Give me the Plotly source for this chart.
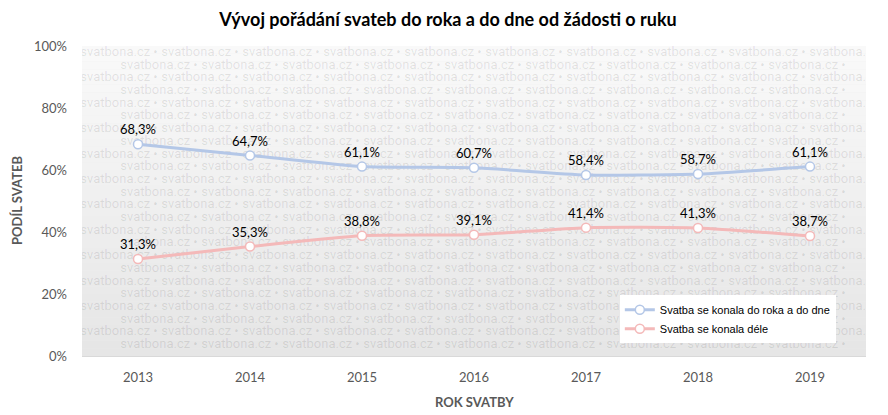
import plotly.graph_objects as go

# data
years = [2013, 2014, 2015, 2016, 2017, 2018, 2019]
do_roka = [68.3, 64.7, 61.1, 60.7, 58.4, 58.7, 61.1]
dele = [31.3, 35.3, 38.8, 39.1, 41.4, 41.3, 38.7]
y_ticks = [0, 20, 40, 60, 80, 100]

FONT = "Lato"
fig = go.Figure()

# --- background gradient (light top -> darker bottom)
n_bands = 40
for i in range(n_bands):
    t = i / (n_bands - 1)
    c = int(round(0xf9 - (0xf9 - 0xe6) * t))
    fig.add_shape(type="rect", xref="paper", yref="paper",
                  x0=0, x1=1, y0=1 - (i + 1) / n_bands, y1=1 - i / n_bands,
                  fillcolor=f"rgb({c},{c},{c})", line=dict(width=0), layer="below")

# --- watermark "svatbona.cz •" tiles, clipped to the plot area
px_x = 784 / 7   # pixels per year
px_y = 310 / 100  # pixels per percent
period = 81 / px_x
row_gap = 12.7 / px_y
wm_x, wm_y = [], []
for k in range(26):
    x0 = 2012.5 + 37 / px_x - (0 if k % 2 == 0 else 41 / px_x)
    for j in range(12):
        wm_x.append(x0 + j * period)
        wm_y.append(100 - 6.7 / px_y - row_gap * k)
fig.add_trace(go.Scatter(x=wm_x, y=wm_y, text=["svatbona.cz \u2022"] * len(wm_x), mode="text",
                         textposition="middle center", cliponaxis=True,
                         textfont=dict(family="Roboto", size=13, color="rgba(0,0,0,0.1)"),
                         hoverinfo="skip", showlegend=False))

series = [
    ("Svatba se konala do roka a do dne", do_roka, "#b4c7e7"),
    ("Svatba se konala déle", dele, "#f4b9b9"),
]
for name, vals, col in series:
    fig.add_trace(go.Scatter(
        x=years, y=vals, name=name, mode="lines+markers+text",
        line=dict(color=col, width=3, shape="spline", smoothing=0.6),
        marker=dict(size=9, color="white", line=dict(color=col, width=1.5)),
        texttemplate="%{y:.1f}%", textposition="top center",
        textfont=dict(family=FONT, size=13, color="#000000"),
        cliponaxis=False,
    ))

# axis titles as annotations so the plot area stays fixed
fig.add_annotation(text="<b>ROK SVATBY</b>", xref="paper", yref="paper", x=0.5, y=0,
                   yanchor="middle", yshift=-46, showarrow=False,
                   font=dict(family=FONT, size=13, color="#595959"))
fig.add_annotation(text="<b>PODÍL SVATEB</b>", xref="paper", yref="paper", x=0, y=0.5,
                   xanchor="center", xshift=-65, textangle=-90, showarrow=False,
                   font=dict(family=FONT, size=13, color="#595959"))

# the page puts the figure 8px in from the top-left corner
fig.update_layout(
    width=880, height=407,
    margin=dict(l=74, r=22, t=38, b=59),
    paper_bgcolor="white", plot_bgcolor="#eeeeee",
    separators=", ",
    font=dict(family=FONT, color="#595959"),
    title=dict(text="<b>Vývoj pořádání svateb do roka a do dne od žádosti o ruku</b>",
               x=0.5, xanchor="center", y=1 - 12 / 407, yanchor="middle",
               font=dict(family=FONT, size=18, color="#000000")),
    xaxis=dict(range=[2012.5, 2019.5], tickvals=years, ticktext=[str(y) for y in years],
               showgrid=False, zeroline=False, showline=True, linecolor="#d9d9d9",
               ticks="", ticklabelstandoff=9, automargin=False,
               tickfont=dict(size=13, color="#595959")),
    yaxis=dict(range=[0, 100], tickvals=y_ticks, ticktext=[f"{v}%" for v in y_ticks],
               showgrid=False, zeroline=False, ticks="", ticklabelstandoff=14,
               automargin=False, tickfont=dict(size=13, color="#595959")),
    legend=dict(x=0.686, y=0.196, xanchor="left", yanchor="top",
                bgcolor="white", borderwidth=0,
                font=dict(family="Liberation Sans", size=11, color="#000000"),
                itemwidth=30, tracegroupgap=1),
)

fig.write_html("out.html")
